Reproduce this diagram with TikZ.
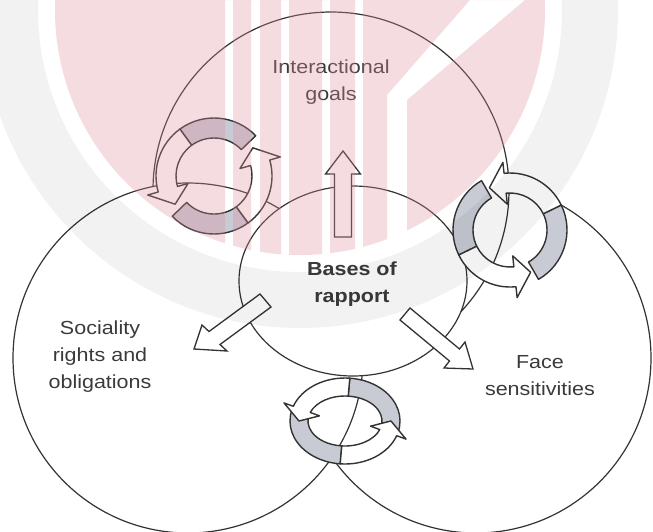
\documentclass[tikz,border=0pt]{standalone}
\usepackage{fontspec}
\setmainfont{Liberation Sans}
\usepackage{graphicx}

\definecolor{ink}{HTML}{333333}
\definecolor{txt}{HTML}{3A3A3A}
\definecolor{ringgrey}{HTML}{C8CAD4}
\definecolor{crest}{RGB}{222,142,155}

\tikzset{
  bigcircle/.style={draw=ink, line width=1.2pt, fill=white},
  core/.style={draw=ink, line width=1.2pt, fill=white},
  blockarrow/.style={draw=ink, line width=1.3pt, fill=white, line join=miter},
  ringtail/.style={draw=ink, line width=1.4pt, fill=ringgrey, line join=round},
  ringhead/.style={draw=ink, line width=1.4pt, fill=white, line join=round},
  lbltext/.style={text=txt, font=\fontsize{21.5}{30.5}\selectfont, inner sep=0pt},
}

% two-line captions, slightly flattened
\newcommand\squash[1]{\scalebox{1}[0.88]{\begin{tabular}{@{}c@{}}#1\end{tabular}}}

% geometry of one curved ring arrow: outer radii, band width,
% tail angle, grey span, white span, head span
\newcommand\ringsetup[7]{%
  \pgfmathsetmacro\rgRo{#1}\pgfmathsetmacro\rgQo{#2}%
  \pgfmathsetmacro\rgRi{#1-#3}\pgfmathsetmacro\rgQi{#2-#3}%
  \pgfmathsetmacro\rgRm{#1-#3/2}\pgfmathsetmacro\rgQm{#2-#3/2}%
  \pgfmathsetmacro\rgRh{#1+0.55*#3}\pgfmathsetmacro\rgQh{#2+0.55*#3}%
  \pgfmathsetmacro\rgRl{#1-1.55*#3}\pgfmathsetmacro\rgQl{#2-1.55*#3}%
  \pgfmathsetmacro\rgA{#4}\pgfmathsetmacro\rgG{#4-#5}%
  \pgfmathsetmacro\rgB{#4-#5-#6}\pgfmathsetmacro\rgP{#4-#5-#6-#7}}

\newcommand\ringtailpart{%
  \filldraw[ringtail] (\rgA:{\rgRo} and {\rgQo})
    arc[start angle=\rgA, end angle=\rgG, x radius=\rgRo, y radius=\rgQo]
    -- (\rgG:{\rgRi} and {\rgQi})
    arc[start angle=\rgG, end angle=\rgA, x radius=\rgRi, y radius=\rgQi]
    -- cycle;}

\newcommand\ringheadpart{%
  \filldraw[ringhead] (\rgG:{\rgRo} and {\rgQo})
    arc[start angle=\rgG, end angle=\rgB, x radius=\rgRo, y radius=\rgQo]
    -- (\rgB:{\rgRh} and {\rgQh})
    -- (\rgP:{\rgRm} and {\rgQm})
    -- (\rgB:{\rgRl} and {\rgQl})
    -- (\rgB:{\rgRi} and {\rgQi})
    arc[start angle=\rgB, end angle=\rgG, x radius=\rgRi, y radius=\rgQi]
    -- cycle;}

% a pair of chasing ring arrows
\newcommand\cyclepair[8]{% cx cy Ro Qo w t gs ws (head span fixed)
  \begin{scope}[shift={(#1,#2)}]
    \ringsetup{#3}{#4}{#5}{#6}{#7}{#8}{20}\ringtailpart
    \ringsetup{#3}{#4}{#5}{#6+180}{#7}{#8}{20}\ringtailpart
    \ringsetup{#3}{#4}{#5}{#6}{#7}{#8}{20}\ringheadpart
    \ringsetup{#3}{#4}{#5}{#6+180}{#7}{#8}{20}\ringheadpart
  \end{scope}}

\begin{document}
\begin{tikzpicture}[x=1pt, y=-1pt]
  \useasboundingbox (0,0) rectangle (653,531);
  \clip (0,0) rectangle (653,531);
  \fill[white] (0,0) rectangle (653,531);

  % centres of the four domains
  \coordinate (faceC)   at (476,358);
  \coordinate (goalC)   at (331,190);
  \coordinate (socC)    at (188,358);
  \coordinate (baseC)   at (353,281);

  % overlapping domains (drawing order sets which outline is hidden)
  \path[bigcircle] (faceC) circle[radius=175];
  \path[bigcircle] (goalC) circle[radius=178];
  \path[bigcircle] (socC)  circle[radius=175];
  \path[core] (baseC) ellipse[x radius=114, y radius=95];

  % block arrows leaving the core
  \filldraw[blockarrow] (334.5,237) -- (334.5,174) -- (325.5,174) -- (343,151)
    -- (360.5,174) -- (351.5,174) -- (351.5,237) -- cycle;
  \filldraw[blockarrow] (260,294) -- (209,331.5) -- (202,325) -- (194,349)
    -- (227,351) -- (220,344.5) -- (271,307) -- cycle;
  \filldraw[blockarrow] (410,308) -- (459.5,349) -- (465,342) -- (473,369)
    -- (444,368) -- (449.5,361) -- (400,320) -- cycle;

  % ring arrows where the domains meet
  \cyclepair{214}{176}{58}{58}{20}{-44}{82}{70}
  \cyclepair{510}{230}{57}{57}{20}{60}{86}{70}
  \cyclepair{345}{421}{55}{43}{18}{15}{100}{75}

  % captions
  \node[lbltext] (goals)  at (331,82)  {\squash{Interactional\\goals}};
  \node[lbltext, font=\fontsize{21.5}{30.5}\selectfont\bfseries] (bases) at (352,284) {\squash{Bases of\\rapport}};
  \node[lbltext] (social) at (100,356) {\squash{Sociality\\rights and\\obligations}};
  \node[lbltext] (face)   at (540,377) {\squash{Face\\sensitivities}};

  % faint crest laid over the figure: grey rim, pink disc with light bars
  \coordinate (crestC) at (300,10);
  \fill[black, opacity=0.05, even odd rule]
    (crestC) circle[radius=318] (crestC) circle[radius=262];
  \begin{scope}
    \clip (crestC) circle[radius=245];
    \fill[crest, opacity=0.3, even odd rule] (0,0) rectangle (653,260)
      (225,0) rectangle (233,260)
      (251,0) rectangle (260,260)
      (281,0) rectangle (289,260)
      (322,0) rectangle (330,260)
      (355,0) rectangle (363,260)
      (470,0) -- (525,0) -- (407,100) -- (407,260) -- (387,260) -- (387,95) -- cycle;
  \end{scope}
\end{tikzpicture}
\end{document}
